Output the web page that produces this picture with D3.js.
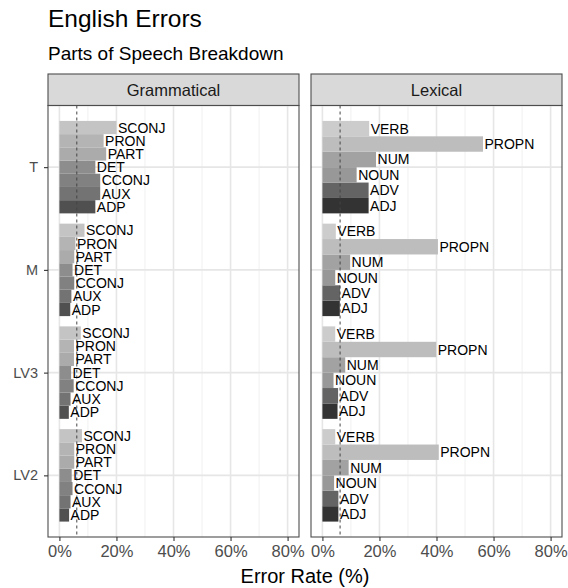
<!DOCTYPE html>
<html>
<head>
<meta charset="utf-8">
<script src="https://cdn.jsdelivr.net/npm/d3@7"></script>
<style>
  html, body { margin: 0; padding: 0; background: #ffffff; }
  svg { display: block; font-family: "Liberation Sans", Arial, Helvetica, sans-serif; }
</style>
</head>
<body>
<svg id="chart" width="568" height="588"></svg>
<script>
// Proficiency groups (top to bottom) and part-of-speech categories
const groups = ["T", "M", "LV3", "LV2"];
const gramPOS = ["ADP", "AUX", "CCONJ", "DET", "PART", "PRON", "SCONJ"];
const lexPOS = ["ADJ", "ADV", "NOUN", "NUM", "PROPN", "VERB"];
const allPOS = ["ADJ", "ADP", "ADV", "AUX", "CCONJ", "DET", "NOUN", "NUM", "PART", "PRON", "PROPN", "SCONJ", "VERB"];

// Error rates (%) for grammatical POS, in gramPOS order
const gramT = [12.6, 14.3, 14.3, 12.6, 16.4, 15.5, 20.0];
const gramM = [3.8, 4.2, 5.2, 4.6, 5.2, 5.6, 8.8];
const gramLV3 = [3.3, 3.9, 5.0, 4.1, 5.1, 5.1, 7.5];
const gramLV2 = [3.4, 3.9, 4.6, 4.3, 5.2, 5.2, 7.9];

// Error rates (%) for lexical POS, in lexPOS order
const lexT = [16.2, 16.2, 12.0, 18.8, 56.3, 16.4];
const lexM = [6.1, 6.2, 4.5, 9.7, 40.5, 4.7];
const lexLV3 = [5.3, 5.5, 3.9, 8.0, 39.9, 4.5];
const lexLV2 = [5.6, 5.6, 4.1, 9.2, 40.8, 4.5];

// Overall reference rate (%) per facet, shown as dashed line
const meanRates = [6.1, 6.2];

const xTicks = [0, 20, 40, 60, 80];
const xMinor = [10, 30, 50, 70];

const facets = [
  { name: "Grammatical", pos: gramPOS, values: [gramT, gramM, gramLV3, gramLV2], mean: meanRates[0] },
  { name: "Lexical", pos: lexPOS, values: [lexT, lexM, lexLV3, lexLV2], mean: meanRates[1] }
];

// grey.colors(13, start = 0.2, end = 0.8) with gamma 2.2
const gamma = 2.2;
const greyFill = d3.scaleOrdinal()
  .domain(allPOS)
  .range(allPOS.map((_, i) => {
    const a = Math.pow(0.2, gamma), b = Math.pow(0.8, gamma);
    const v = Math.pow(a + (b - a) * i / (allPOS.length - 1), 1 / gamma);
    const c = Math.round(v * 255);
    return d3.rgb(c, c, c).toString();
  }));

const svg = d3.select("#chart");

// Titles
svg.append("text").attr("x", 48).attr("y", 27)
  .attr("font-size", 24.5).attr("fill", "#000").text("English Errors");
svg.append("text").attr("x", 48).attr("y", 60)
  .attr("font-size", 19).attr("fill", "#000").text("Parts of Speech Breakdown");

const panelTop = 105.5, panelBottom = 537, stripTop = 74;
const panelLefts = [48, 311];
const panelWidth = 251;

const y = d3.scalePoint().domain(groups).range([panelTop, panelBottom]).padding(0.6);
const step = y.step();

facets.forEach((f, fi) => {
  const x0 = panelLefts[fi];
  const x = d3.scaleLinear().domain([-4, 84]).range([x0, x0 + panelWidth]);
  const g = svg.append("g");

  // strip
  g.append("rect").attr("x", x0).attr("y", stripTop)
    .attr("width", panelWidth).attr("height", panelTop - stripTop)
    .attr("fill", "#d9d9d9").attr("stroke", "#4d4d4d").attr("stroke-width", 1.1);
  g.append("text").attr("x", x0 + panelWidth / 2).attr("y", (stripTop + panelTop) / 2)
    .attr("dy", "0.36em").attr("text-anchor", "middle")
    .attr("font-size", 16.5).attr("fill", "#1a1a1a").text(f.name);

  // grid
  g.selectAll(".minor").data(xMinor).join("line")
    .attr("x1", d => x(d)).attr("x2", d => x(d))
    .attr("y1", panelTop).attr("y2", panelBottom)
    .attr("stroke", "#f0f0f0").attr("stroke-width", 1);
  g.selectAll(".major").data(xTicks).join("line")
    .attr("x1", d => x(d)).attr("x2", d => x(d))
    .attr("y1", panelTop).attr("y2", panelBottom)
    .attr("stroke", "#e6e6e6").attr("stroke-width", 1.6);
  g.selectAll(".hmajor").data(groups).join("line")
    .attr("x1", x0).attr("x2", x0 + panelWidth)
    .attr("y1", d => y(d)).attr("y2", d => y(d))
    .attr("stroke", "#e6e6e6").attr("stroke-width", 1.6);

  // bars, dodged within each group
  const band = d3.scaleBand().domain(f.pos.slice().reverse()).range([-0.45 * step, 0.45 * step]);
  groups.forEach((grp, gi) => {
    const rows = f.pos.map((p, pi) => ({ pos: p, v: f.values[gi][pi] }));
    const cy = y(grp);
    g.selectAll(null).data(rows).join("rect")
      .attr("x", x(0)).attr("y", d => cy + band(d.pos))
      .attr("width", d => x(d.v) - x(0)).attr("height", band.bandwidth())
      .attr("fill", d => greyFill(d.pos));
  });

  // dashed reference line
  g.append("line").attr("x1", x(f.mean)).attr("x2", x(f.mean))
    .attr("y1", panelTop).attr("y2", panelBottom)
    .attr("stroke", "#444").attr("stroke-width", 1).attr("stroke-dasharray", "3,3");

  // POS labels at the bar ends
  groups.forEach((grp, gi) => {
    const rows = f.pos.map((p, pi) => ({ pos: p, v: f.values[gi][pi] }));
    const cy = y(grp);
    g.selectAll(null).data(rows).join("text")
      .attr("x", d => x(d.v) + 1.5).attr("y", d => cy + band(d.pos) + band.bandwidth() / 2)
      .attr("dy", "0.36em").attr("font-size", 14).attr("fill", "#000")
      .text(d => d.pos);
  });

  // panel border
  g.append("rect").attr("x", x0).attr("y", panelTop)
    .attr("width", panelWidth).attr("height", panelBottom - panelTop)
    .attr("fill", "none").attr("stroke", "#4d4d4d").attr("stroke-width", 1.1);

  // x axis
  const xa = svg.append("g").attr("transform", `translate(0,${panelBottom})`)
    .call(d3.axisBottom(x).tickValues(xTicks).tickFormat(d => d + "%").tickSize(4).tickPadding(4));
  xa.select(".domain").remove();
  xa.selectAll(".tick line").attr("stroke", "#333").attr("stroke-width", 1.1);
  xa.selectAll(".tick text").attr("font-size", 16.5).attr("fill", "#4d4d4d")
    .attr("font-family", "Liberation Sans, Arial, sans-serif");
});

// y axis on the left panel
const ya = svg.append("g").attr("transform", `translate(${panelLefts[0]},0)`)
  .call(d3.axisLeft(y).tickSize(4).tickPadding(6));
ya.select(".domain").remove();
ya.selectAll(".tick line").attr("stroke", "#333").attr("stroke-width", 1.1);
ya.selectAll(".tick text").attr("font-size", 14.5).attr("fill", "#4d4d4d")
  .attr("font-family", "Liberation Sans, Arial, sans-serif");

// x axis title
svg.append("text").attr("x", (panelLefts[0] + panelLefts[1] + panelWidth) / 2).attr("y", 583)
  .attr("text-anchor", "middle").attr("font-size", 20).attr("fill", "#000").text("Error Rate (%)");
</script>
</body>
</html>
